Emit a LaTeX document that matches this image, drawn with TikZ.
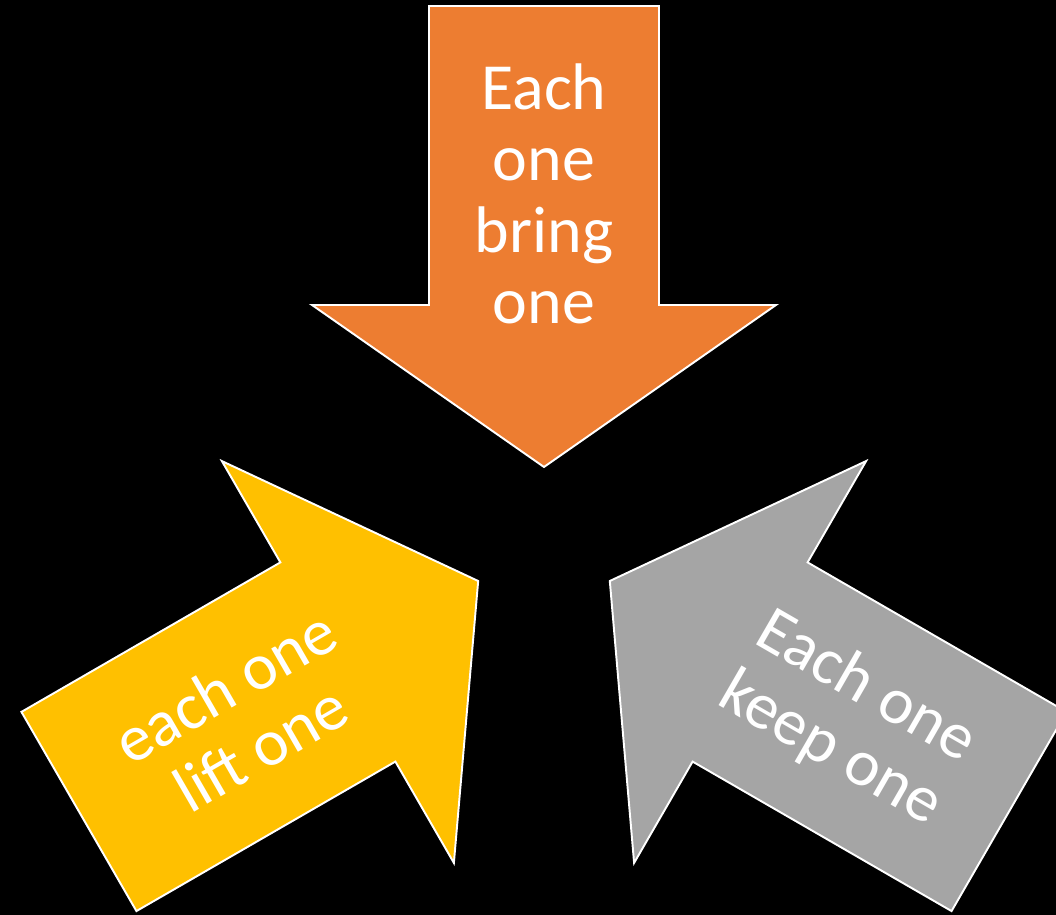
\documentclass[tikz,border=0pt]{standalone}
\usepackage{fontspec}
\setmainfont{Carlito}
\definecolor{bring}{HTML}{ED7D31}
\definecolor{lift}{HTML}{FFC000}
\definecolor{keep}{HTML}{A5A5A5}

\begin{document}
\begin{tikzpicture}[x=0.02cm, y=0.02cm,
  blk/.style={draw=white, line width=1.1pt, fill=#1, line join=miter},
  say/.style={text=white, align=center, inner sep=0pt,
              font=\fontsize{37.5}{40.6}\selectfont}
]

  \fill[black] (-544,-372) rectangle (512,543);
  \clip (-544,-372) rectangle (512,543);

  % the same arrow, turned by 120 degrees each time
  \draw[blk=bring] (-115,537) -- (115,537) -- (115,238) -- (232,238)
    -- (0,76) -- (-232,238) -- (-115,238) -- cycle;
  \draw[blk=lift, rotate=120] (-115,537) -- (115,537) -- (115,238) -- (232,238)
    -- (0,76) -- (-232,238) -- (-115,238) -- cycle;
  \draw[blk=keep, rotate=240] (-115,537) -- (115,537) -- (115,238) -- (232,238)
    -- (0,76) -- (-232,238) -- (-115,238) -- cycle;

  \node[say] (bringtxt) at (90:349) {Each\\one\\bring\\one};
  \node[say, rotate=30] (lifttxt) at (210:348) {each one\\lift one};
  \node[say, rotate=-30] (keeptxt) at (330:351) {Each one\\keep one};

\end{tikzpicture}
\end{document}
